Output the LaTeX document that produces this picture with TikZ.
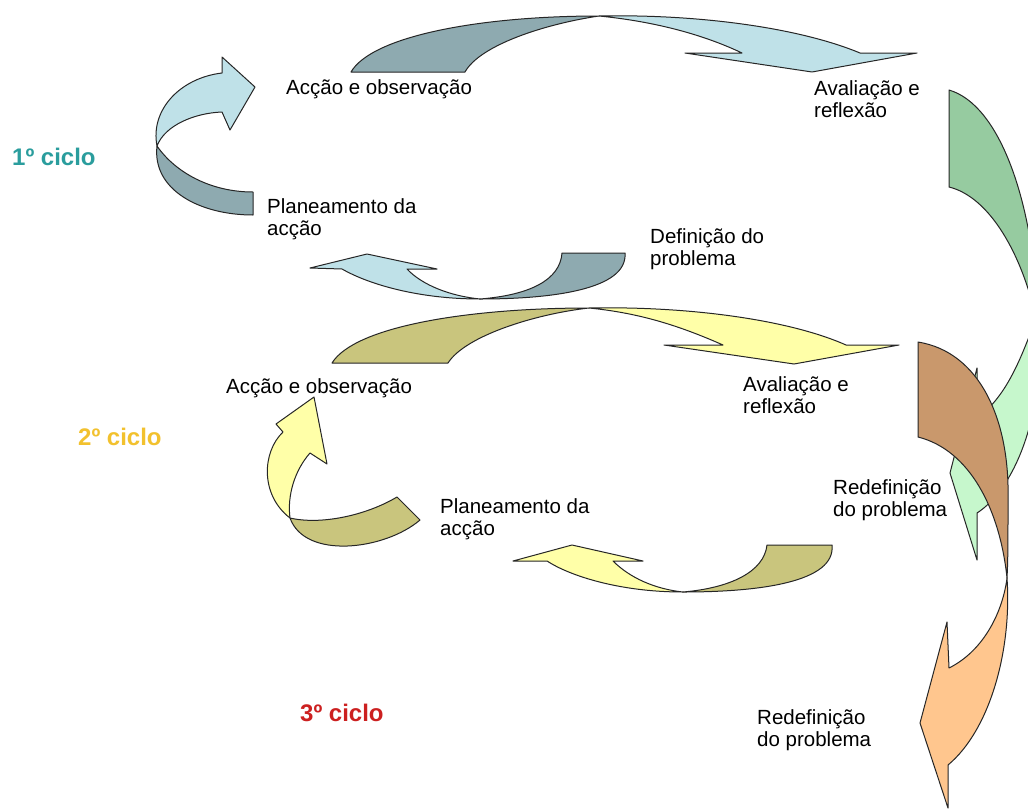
\documentclass[tikz,border=0pt]{standalone}
\usepackage{fontspec}
\setmainfont{Liberation Sans}
\definecolor{tealD}{HTML}{8EAAB0}
\definecolor{tealL}{HTML}{BFE1E8}
\definecolor{yelD}{HTML}{C9C57D}
\definecolor{yelL}{HTML}{FFFFA8}
\definecolor{grnD}{HTML}{96CBA0}
\definecolor{grnL}{HTML}{C6F7CC}
\definecolor{brnD}{HTML}{C9986C}
\definecolor{orgL}{HTML}{FFC68E}
\definecolor{cycA}{HTML}{2A9D9D}
\definecolor{cycB}{HTML}{F2C12E}
\definecolor{cycC}{HTML}{CC2020}
\begin{document}
\begin{tikzpicture}[x=1pt,y=-1pt,
  arr/.style={draw=black!85, line width=1pt, line join=round},
  lbl/.style={anchor=west, align=left, inner sep=0pt, font=\fontsize{20.5}{22}\selectfont},
  cyc/.style={anchor=west, inner sep=0pt, font=\fontsize{24}{26}\selectfont\bfseries}]
\useasboundingbox (0,0) rectangle (1028,809);
\fill[white] (0,0) rectangle (1028,809);
\begin{scope}
\clip (0,0) rectangle (1028,809);
% ---- cycle 1, top arrow
\path[arr, fill=tealD] (351,72) .. controls (372,36) and (480,16) .. (599,16)
  .. controls (545,24) and (480,45) .. (465,72) -- cycle;
\path[arr, fill=tealL] (599,16) .. controls (700,14) and (800,28) .. (860,53)
  -- (917,53) -- (812,72) -- (685,53) -- (742,53)
  .. controls (700,33) and (650,21) .. (599,16) -- cycle;
% ---- cycle 1, left arrow
\path[arr, fill=tealL] (157,146) .. controls (150,110) and (180,78) .. (222,73)
  -- (222,57) -- (255,87) -- (230,130) -- (222,112)
  .. controls (195,113) and (165,125) .. (157,146) -- cycle;
\path[arr, fill=tealD] (157,146) .. controls (152,190) and (200,215) .. (253,215)
  -- (253,192) .. controls (210,192) and (175,172) .. (157,146) -- cycle;
% ---- cycle 1, bottom arrow
\path[arr, fill=tealD] (625,253) .. controls (628,290) and (550,299) .. (480,299)
  .. controls (530,295) and (560,280) .. (562,253) -- cycle;
\path[arr, fill=tealL] (480,299) .. controls (420,299) and (370,285) .. (342,269)
  -- (310,268) -- (367,254) -- (437,269) -- (407,269)
  .. controls (422,285) and (450,296) .. (480,299) -- cycle;
% ---- cycle 2, top arrow
\path[arr, fill=yelD] (332,363) .. controls (355,326) and (470,308) .. (589,308)
  .. controls (535,314) and (465,336) .. (448,363) -- cycle;
\path[arr, fill=yelL] (589,308) .. controls (690,306) and (790,320) .. (846,345)
  -- (899,345) -- (794,364) -- (664,345) -- (723,345)
  .. controls (680,326) and (640,313) .. (589,308) -- cycle;
% ---- cycle 2, left arrow
\path[arr, fill=yelL] (290,518) .. controls (260,495) and (262,452) .. (283,432)
  -- (276,424) -- (314,397) -- (327,464) -- (310,453)
  .. controls (295,470) and (287,495) .. (290,518) -- cycle;
\path[arr, fill=yelD] (290,518) .. controls (305,560) and (385,550) .. (420,520)
  -- (397,497) .. controls (365,516) and (320,525) .. (290,518) -- cycle;
% ---- cycle 2, bottom arrow
\path[arr, fill=yelD] (832,545) .. controls (836,582) and (760,592) .. (683,592)
  .. controls (730,588) and (764,572) .. (767,545) -- cycle;
\path[arr, fill=yelL] (683,592) .. controls (620,592) and (570,576) .. (547,561)
  -- (513,561) -- (572,545) -- (643,561) -- (613,561)
  .. controls (630,578) and (655,589) .. (683,592) -- cycle;
% ---- right: green arrow
\path[arr, fill=grnD] (949,90) .. controls (1000,105) and (1030,200) .. (1036,290)
  -- (1036,318) .. controls (1022,255) and (990,197) .. (949,187) -- cycle;
\path[arr, fill=grnL] (1036,318) .. controls (1020,362) and (1005,398) .. (977,418)
  -- (977,368) -- (950,473) -- (977,560) -- (977,513)
  .. controls (1005,495) and (1028,450) .. (1036,395) -- cycle;
% ---- right: brown / orange arrow
\path[arr, fill=brnD] (918,342) .. controls (980,352) and (1010,420) .. (1008,500)
  .. controls (1008,540) and (1008,560) .. (1007,578)
  .. controls (1000,510) and (970,450) .. (918,437) -- cycle;
\path[arr, fill=orgL] (1007,578) .. controls (1012,650) and (990,730) .. (948,765)
  -- (948,808) -- (920,723) -- (947,622) -- (949,668)
  .. controls (985,650) and (1003,610) .. (1007,578) -- cycle;
\end{scope}
% ---- labels
\node[lbl] (ao1) at (286,89) {Acção e observação};
\node[lbl] (ar1) at (814,99) {Avaliação e\\reflexão};
\node[cyc, text=cycA] (c1) at (12,157) {1º ciclo};
\node[lbl] (pa1) at (267,219) {Planeamento da\\acção};
\node[lbl] (dp1) at (650,249) {Definição do\\problema};
\node[lbl] (ao2) at (226,388) {Acção e observação};
\node[lbl] (ar2) at (743,395) {Avaliação e\\reflexão};
\node[cyc, text=cycB] (c2) at (78,437) {2º ciclo};
\node[lbl] (pa2) at (440,519) {Planeamento da\\acção};
\node[lbl] (rp2) at (833,500) {Redefinição\\do problema};
\node[cyc, text=cycC] (c3) at (300,713) {3º ciclo};
\node[lbl] (rp3) at (757,730) {Redefinição\\do problema};
\end{tikzpicture}
\end{document}
